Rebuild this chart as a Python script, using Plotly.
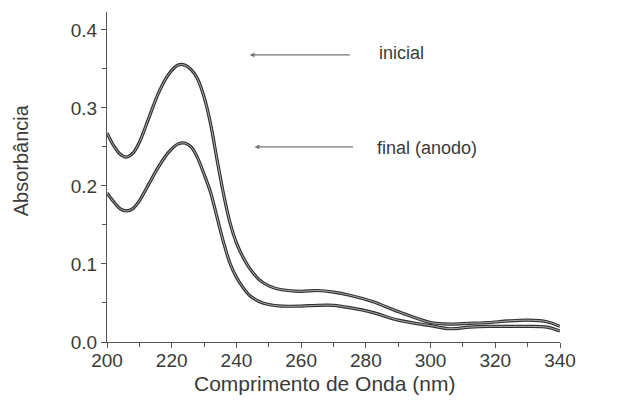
import plotly.graph_objects as go

# Wavelength (nm)
wavelength = [200, 202, 204, 206, 208, 210, 213, 216, 219, 222, 224, 226, 228, 230, 232,
              234, 236, 238, 240, 242, 244, 247, 250, 254, 260, 265, 270, 275, 282, 290,
              300, 306, 312, 318, 324, 330, 336, 340]
# Absorbance, initial
abs_inicial = [0.268, 0.252, 0.241, 0.237, 0.242, 0.256, 0.288, 0.320, 0.343, 0.355, 0.355,
               0.349, 0.337, 0.314, 0.280, 0.234, 0.190, 0.153, 0.127, 0.109, 0.095, 0.080,
               0.072, 0.067, 0.065, 0.066, 0.064, 0.060, 0.052, 0.039, 0.025, 0.023, 0.024,
               0.025, 0.027, 0.028, 0.026, 0.020]
# Absorbance, final (anode)
abs_final = [0.191, 0.180, 0.171, 0.168, 0.171, 0.181, 0.203, 0.225, 0.243, 0.254, 0.255,
             0.250, 0.236, 0.215, 0.192, 0.160, 0.128, 0.101, 0.083, 0.070, 0.060, 0.052,
             0.048, 0.046, 0.046, 0.047, 0.047, 0.044, 0.038, 0.028, 0.021, 0.017, 0.019,
             0.020, 0.020, 0.020, 0.019, 0.014]

x_ticks = [200, 220, 240, 260, 280, 300, 320, 340]
y_ticks = [0.0, 0.1, 0.2, 0.3, 0.4]
y_tick_labels = ["0.0", "0.1", "0.2", "0.3", "0.4"]

FONT = "Liberation Sans, Arial, sans-serif"
INK = "#3a3a3a"

fig = go.Figure()
for ys in (abs_inicial, abs_final):
    fig.add_trace(go.Scatter(x=wavelength, y=ys, mode="lines",
                             line=dict(color="#2e2e2e", width=3.2, shape="spline", smoothing=0.9),
                             hoverinfo="skip", showlegend=False))
    fig.add_trace(go.Scatter(x=wavelength, y=ys, mode="lines",
                             line=dict(color="#bdbdbd", width=0.9, shape="spline", smoothing=0.9),
                             hoverinfo="skip", showlegend=False))

axis_common = dict(showline=True, linecolor="#555", linewidth=1.3, ticks="outside",
                   tickcolor="#555", ticklen=5, tickwidth=1.3, showgrid=False, zeroline=False,
                   mirror=False, tickfont=dict(family=FONT, size=19, color=INK))

fig.update_xaxes(range=[200, 340], tickvals=x_ticks, ticklabelstandoff=-4,
                 minor=dict(dtick=10, ticks="outside", ticklen=4, tickcolor="#555", tickwidth=1.2),
                 **axis_common)
fig.update_yaxes(range=[0, 0.423], tickvals=y_ticks, ticktext=y_tick_labels,
                 minor=dict(dtick=0.05, ticks="outside", ticklen=4, tickcolor="#555", tickwidth=1.2),
                 **axis_common)

annotations = [
    dict(text="Comprimento de Onda (nm)", xref="paper", yref="paper", x=0.4805, y=-0.127,
         xanchor="center", yanchor="middle", showarrow=False,
         font=dict(family=FONT, size=21, color=INK)),
    dict(text="Absorbância", xref="paper", yref="paper", x=-0.188, y=0.55,
         xanchor="center", yanchor="middle", showarrow=False, textangle=-90,
         font=dict(family=FONT, size=20, color=INK)),
    dict(text="inicial", xref="x", yref="y", x=283.4, y=0.3705, xanchor="left",
         yanchor="middle", showarrow=False, font=dict(family=FONT, size=18, color=INK)),
    dict(text="final (anodo)", xref="x", yref="y", x=282.8, y=0.249, xanchor="left",
         yanchor="middle", showarrow=False, font=dict(family=FONT, size=18, color=INK)),
    dict(text="", x=244.1, y=0.368, xref="x", yref="y", ax=275.5, ay=0.368, axref="x",
         ayref="y", showarrow=True, arrowhead=2, arrowsize=0.8, arrowwidth=1.2,
         arrowcolor="#777"),
    dict(text="", x=245.6, y=0.250, xref="x", yref="y", ax=276.5, ay=0.250, axref="x",
         ayref="y", showarrow=True, arrowhead=2, arrowsize=0.8, arrowwidth=1.2,
         arrowcolor="#777"),
]

# The page body adds an 8px offset; margins compensate so the plot area lands at
# x 107..560, y 12..342 in the screenshot.
fig.update_layout(width=619, height=407, margin=dict(l=99, r=67, t=4, b=73),
                  plot_bgcolor="white", paper_bgcolor="white", annotations=annotations,
                  font=dict(family=FONT, color=INK))

fig.write_html("out.html")
